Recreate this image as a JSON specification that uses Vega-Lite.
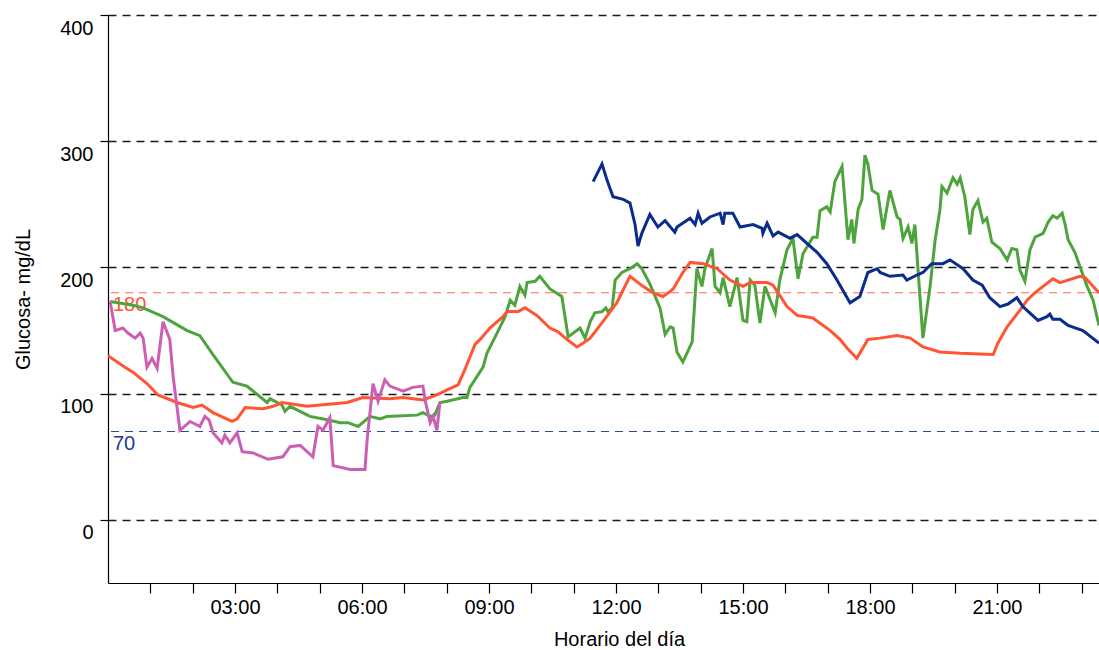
{
  "$schema": "https://vega.github.io/schema/vega-lite/v6.json",
  "width": 991,
  "height": 568,
  "autosize": "none",
  "padding": {"left": 108, "top": 15, "right": 0, "bottom": 67},
  "background": "white",
  "config": {"view": {"stroke": null}, "font": "Liberation Sans"},
  "layer": [
    {
      "data": {"values": [{"ref": 180}]},
      "mark": {"type": "rule", "strokeDash": [8, 6], "strokeWidth": 1.1, "color": "#ff6a50"},
      "encoding": {"y": {"field": "ref", "type": "quantitative", "scale": {"domain": [-50, 400], "nice": false}}}
    },
    {
      "data": {"values": [{"ref": 70}]},
      "mark": {"type": "rule", "strokeDash": [8, 6], "strokeWidth": 1.1, "color": "#2a4c9e"},
      "encoding": {"y": {"field": "ref", "type": "quantitative"}}
    },
    {
      "data": {"values": [{"ref": 180, "hora": 0, "label": "180"}]},
      "mark": {"type": "text", "align": "left", "baseline": "top", "dx": 5, "dy": 2, "fontSize": 20, "color": "#ff5533"},
      "encoding": {"x": {"field": "hora", "type": "quantitative"}, "y": {"field": "ref", "type": "quantitative"}, "text": {"field": "label"}}
    },
    {
      "data": {"values": [{"ref": 70, "hora": 0, "label": "70"}]},
      "mark": {"type": "text", "align": "left", "baseline": "top", "dx": 5, "dy": 2, "fontSize": 20, "color": "#1a3a99"},
      "encoding": {"x": {"field": "hora", "type": "quantitative"}, "y": {"field": "ref", "type": "quantitative"}, "text": {"field": "label"}}
    },
    {
      "data": {"values": [
        {"serie":"Día 2","hora":0.05,"glucosa":173},{"serie":"Día 2","hora":0.59,"glucosa":170},{"serie":"Día 2","hora":0.83,"glucosa":168},{"serie":"Día 2","hora":1.30,"glucosa":161},{"serie":"Día 2","hora":1.87,"glucosa":150},{"serie":"Día 2","hora":2.17,"glucosa":146},{"serie":"Día 2","hora":2.48,"glucosa":131},{"serie":"Día 2","hora":2.95,"glucosa":109},{"serie":"Día 2","hora":3.28,"glucosa":106},{"serie":"Día 2","hora":3.76,"glucosa":93},{"serie":"Día 2","hora":3.83,"glucosa":96},{"serie":"Día 2","hora":4.11,"glucosa":91},{"serie":"Día 2","hora":4.18,"glucosa":86},{"serie":"Día 2","hora":4.30,"glucosa":90},{"serie":"Día 2","hora":4.77,"glucosa":82},{"serie":"Día 2","hora":5.24,"glucosa":79},{"serie":"Día 2","hora":5.48,"glucosa":77},{"serie":"Día 2","hora":5.67,"glucosa":77},{"serie":"Día 2","hora":5.91,"glucosa":74},{"serie":"Día 2","hora":6.19,"glucosa":82},{"serie":"Día 2","hora":6.43,"glucosa":80},{"serie":"Día 2","hora":6.59,"glucosa":82},{"serie":"Día 2","hora":7.30,"glucosa":83},{"serie":"Día 2","hora":7.44,"glucosa":85},{"serie":"Día 2","hora":7.61,"glucosa":82},{"serie":"Día 2","hora":7.72,"glucosa":83},{"serie":"Día 2","hora":7.84,"glucosa":93},{"serie":"Día 2","hora":8.01,"glucosa":94},{"serie":"Día 2","hora":8.39,"glucosa":97},{"serie":"Día 2","hora":8.48,"glucosa":97},{"serie":"Día 2","hora":8.55,"glucosa":105},{"serie":"Día 2","hora":8.86,"glucosa":121},{"serie":"Día 2","hora":8.95,"glucosa":132},{"serie":"Día 2","hora":9.19,"glucosa":148},{"serie":"Día 2","hora":9.38,"glucosa":161},{"serie":"Día 2","hora":9.50,"glucosa":174},{"serie":"Día 2","hora":9.61,"glucosa":170},{"serie":"Día 2","hora":9.73,"glucosa":185},{"serie":"Día 2","hora":9.85,"glucosa":178},{"serie":"Día 2","hora":9.90,"glucosa":188},{"serie":"Día 2","hora":10.09,"glucosa":189},{"serie":"Día 2","hora":10.20,"glucosa":193},{"serie":"Día 2","hora":10.44,"glucosa":183},{"serie":"Día 2","hora":10.72,"glucosa":177},{"serie":"Día 2","hora":10.87,"glucosa":145},{"serie":"Día 2","hora":11.15,"glucosa":152},{"serie":"Día 2","hora":11.27,"glucosa":144},{"serie":"Día 2","hora":11.39,"glucosa":157},{"serie":"Día 2","hora":11.50,"glucosa":164},{"serie":"Día 2","hora":11.67,"glucosa":165},{"serie":"Día 2","hora":11.76,"glucosa":168},{"serie":"Día 2","hora":11.81,"glucosa":165},{"serie":"Día 2","hora":11.91,"glucosa":168},{"serie":"Día 2","hora":11.98,"glucosa":190},{"serie":"Día 2","hora":12.14,"glucosa":196},{"serie":"Día 2","hora":12.33,"glucosa":199},{"serie":"Día 2","hora":12.50,"glucosa":203},{"serie":"Día 2","hora":12.61,"glucosa":199},{"serie":"Día 2","hora":12.80,"glucosa":187},{"serie":"Día 2","hora":13.04,"glucosa":168},{"serie":"Día 2","hora":13.16,"glucosa":147},{"serie":"Día 2","hora":13.28,"glucosa":153},{"serie":"Día 2","hora":13.35,"glucosa":152},{"serie":"Día 2","hora":13.44,"glucosa":133},{"serie":"Día 2","hora":13.58,"glucosa":125},{"serie":"Día 2","hora":13.80,"glucosa":141},{"serie":"Día 2","hora":13.91,"glucosa":199},{"serie":"Día 2","hora":14.03,"glucosa":185},{"serie":"Día 2","hora":14.10,"glucosa":199},{"serie":"Día 2","hora":14.27,"glucosa":215},{"serie":"Día 2","hora":14.34,"glucosa":185},{"serie":"Día 2","hora":14.46,"glucosa":180},{"serie":"Día 2","hora":14.53,"glucosa":192},{"serie":"Día 2","hora":14.69,"glucosa":169},{"serie":"Día 2","hora":14.86,"glucosa":192},{"serie":"Día 2","hora":15.00,"glucosa":158},{"serie":"Día 2","hora":15.09,"glucosa":157},{"serie":"Día 2","hora":15.17,"glucosa":190},{"serie":"Día 2","hora":15.28,"glucosa":186},{"serie":"Día 2","hora":15.40,"glucosa":156},{"serie":"Día 2","hora":15.52,"glucosa":185},{"serie":"Día 2","hora":15.76,"glucosa":164},{"serie":"Día 2","hora":15.87,"glucosa":190},{"serie":"Día 2","hora":16.04,"glucosa":214},{"serie":"Día 2","hora":16.18,"glucosa":223},{"serie":"Día 2","hora":16.30,"glucosa":191},{"serie":"Día 2","hora":16.42,"glucosa":211},{"serie":"Día 2","hora":16.65,"glucosa":224},{"serie":"Día 2","hora":16.75,"glucosa":224},{"serie":"Día 2","hora":16.82,"glucosa":245},{"serie":"Día 2","hora":16.98,"glucosa":248},{"serie":"Día 2","hora":17.06,"glucosa":244},{"serie":"Día 2","hora":17.17,"glucosa":268},{"serie":"Día 2","hora":17.34,"glucosa":280},{"serie":"Día 2","hora":17.48,"glucosa":222},{"serie":"Día 2","hora":17.57,"glucosa":238},{"serie":"Día 2","hora":17.62,"glucosa":219},{"serie":"Día 2","hora":17.72,"glucosa":246},{"serie":"Día 2","hora":17.81,"glucosa":254},{"serie":"Día 2","hora":17.88,"glucosa":289},{"serie":"Día 2","hora":17.95,"glucosa":282},{"serie":"Día 2","hora":18.05,"glucosa":261},{"serie":"Día 2","hora":18.19,"glucosa":258},{"serie":"Día 2","hora":18.31,"glucosa":230},{"serie":"Día 2","hora":18.47,"glucosa":261},{"serie":"Día 2","hora":18.64,"glucosa":240},{"serie":"Día 2","hora":18.71,"glucosa":238},{"serie":"Día 2","hora":18.78,"glucosa":223},{"serie":"Día 2","hora":18.90,"glucosa":232},{"serie":"Día 2","hora":18.99,"glucosa":219},{"serie":"Día 2","hora":19.06,"glucosa":234},{"serie":"Día 2","hora":19.25,"glucosa":144},{"serie":"Día 2","hora":19.42,"glucosa":185},{"serie":"Día 2","hora":19.54,"glucosa":222},{"serie":"Día 2","hora":19.65,"glucosa":245},{"serie":"Día 2","hora":19.70,"glucosa":264},{"serie":"Día 2","hora":19.82,"glucosa":259},{"serie":"Día 2","hora":19.96,"glucosa":271},{"serie":"Día 2","hora":20.06,"glucosa":266},{"serie":"Día 2","hora":20.13,"glucosa":271},{"serie":"Día 2","hora":20.24,"glucosa":256},{"serie":"Día 2","hora":20.36,"glucosa":226},{"serie":"Día 2","hora":20.43,"glucosa":246},{"serie":"Día 2","hora":20.55,"glucosa":253},{"serie":"Día 2","hora":20.67,"glucosa":236},{"serie":"Día 2","hora":20.76,"glucosa":239},{"serie":"Día 2","hora":20.88,"glucosa":220},{"serie":"Día 2","hora":21.07,"glucosa":215},{"serie":"Día 2","hora":21.24,"glucosa":206},{"serie":"Día 2","hora":21.35,"glucosa":215},{"serie":"Día 2","hora":21.47,"glucosa":214},{"serie":"Día 2","hora":21.54,"glucosa":198},{"serie":"Día 2","hora":21.66,"glucosa":189},{"serie":"Día 2","hora":21.78,"glucosa":214},{"serie":"Día 2","hora":21.90,"glucosa":224},{"serie":"Día 2","hora":22.09,"glucosa":227},{"serie":"Día 2","hora":22.21,"glucosa":236},{"serie":"Día 2","hora":22.32,"glucosa":241},{"serie":"Día 2","hora":22.42,"glucosa":239},{"serie":"Día 2","hora":22.54,"glucosa":243},{"serie":"Día 2","hora":22.61,"glucosa":234},{"serie":"Día 2","hora":22.68,"glucosa":222},{"serie":"Día 2","hora":22.84,"glucosa":212},{"serie":"Día 2","hora":23.01,"glucosa":196},{"serie":"Día 2","hora":23.13,"glucosa":185},{"serie":"Día 2","hora":23.27,"glucosa":174},{"serie":"Día 2","hora":23.41,"glucosa":154},
        {"serie":"Día 1","hora":0,"glucosa":130},{"serie":"Día 1","hora":0.40,"glucosa":121},{"serie":"Día 1","hora":0.59,"glucosa":117},{"serie":"Día 1","hora":0.92,"glucosa":108},{"serie":"Día 1","hora":1.18,"glucosa":99},{"serie":"Día 1","hora":1.63,"glucosa":93},{"serie":"Día 1","hora":2.01,"glucosa":89},{"serie":"Día 1","hora":2.22,"glucosa":91},{"serie":"Día 1","hora":2.48,"glucosa":85},{"serie":"Día 1","hora":2.93,"glucosa":78},{"serie":"Día 1","hora":3.05,"glucosa":80},{"serie":"Día 1","hora":3.24,"glucosa":89},{"serie":"Día 1","hora":3.66,"glucosa":88},{"serie":"Día 1","hora":3.90,"glucosa":90},{"serie":"Día 1","hora":4.11,"glucosa":93},{"serie":"Día 1","hora":4.70,"glucosa":90},{"serie":"Día 1","hora":5.65,"glucosa":93},{"serie":"Día 1","hora":6.02,"glucosa":97},{"serie":"Día 1","hora":6.66,"glucosa":96},{"serie":"Día 1","hora":6.97,"glucosa":97},{"serie":"Día 1","hora":7.44,"glucosa":95},{"serie":"Día 1","hora":7.77,"glucosa":99},{"serie":"Día 1","hora":8.01,"glucosa":103},{"serie":"Día 1","hora":8.27,"glucosa":107},{"serie":"Día 1","hora":8.43,"glucosa":119},{"serie":"Día 1","hora":8.55,"glucosa":129},{"serie":"Día 1","hora":8.67,"glucosa":139},{"serie":"Día 1","hora":8.79,"glucosa":143},{"serie":"Día 1","hora":9.02,"glucosa":152},{"serie":"Día 1","hora":9.33,"glucosa":161},{"serie":"Día 1","hora":9.43,"glucosa":165},{"serie":"Día 1","hora":9.69,"glucosa":165},{"serie":"Día 1","hora":9.85,"glucosa":168},{"serie":"Día 1","hora":10.13,"glucosa":162},{"serie":"Día 1","hora":10.44,"glucosa":152},{"serie":"Día 1","hora":10.63,"glucosa":149},{"serie":"Día 1","hora":10.84,"glucosa":143},{"serie":"Día 1","hora":11.08,"glucosa":137},{"serie":"Día 1","hora":11.22,"glucosa":140},{"serie":"Día 1","hora":11.39,"glucosa":144},{"serie":"Día 1","hora":11.69,"glucosa":157},{"serie":"Día 1","hora":12.02,"glucosa":172},{"serie":"Día 1","hora":12.33,"glucosa":193},{"serie":"Día 1","hora":12.64,"glucosa":185},{"serie":"Día 1","hora":12.87,"glucosa":180},{"serie":"Día 1","hora":13.11,"glucosa":177},{"serie":"Día 1","hora":13.28,"glucosa":181},{"serie":"Día 1","hora":13.35,"glucosa":183},{"serie":"Día 1","hora":13.58,"glucosa":196},{"serie":"Día 1","hora":13.75,"glucosa":204},{"serie":"Día 1","hora":14.06,"glucosa":203},{"serie":"Día 1","hora":14.39,"glucosa":199},{"serie":"Día 1","hora":14.69,"glucosa":190},{"serie":"Día 1","hora":15.00,"glucosa":185},{"serie":"Día 1","hora":15.17,"glucosa":188},{"serie":"Día 1","hora":15.57,"glucosa":188},{"serie":"Día 1","hora":15.71,"glucosa":186},{"serie":"Día 1","hora":16.04,"glucosa":169},{"serie":"Día 1","hora":16.28,"glucosa":162},{"serie":"Día 1","hora":16.65,"glucosa":160},{"serie":"Día 1","hora":17.06,"glucosa":150},{"serie":"Día 1","hora":17.29,"glucosa":143},{"serie":"Día 1","hora":17.46,"glucosa":136},{"serie":"Día 1","hora":17.69,"glucosa":128},{"serie":"Día 1","hora":17.95,"glucosa":143},{"serie":"Día 1","hora":18.24,"glucosa":144},{"serie":"Día 1","hora":18.64,"glucosa":146},{"serie":"Día 1","hora":18.95,"glucosa":144},{"serie":"Día 1","hora":19.25,"glucosa":137},{"serie":"Día 1","hora":19.65,"glucosa":133},{"serie":"Día 1","hora":20.13,"glucosa":132},{"serie":"Día 1","hora":20.91,"glucosa":131},{"serie":"Día 1","hora":21.02,"glucosa":140},{"serie":"Día 1","hora":21.24,"glucosa":153},{"serie":"Día 1","hora":21.54,"glucosa":166},{"serie":"Día 1","hora":21.71,"glucosa":174},{"serie":"Día 1","hora":21.90,"glucosa":180},{"serie":"Día 1","hora":22.32,"glucosa":191},{"serie":"Día 1","hora":22.49,"glucosa":188},{"serie":"Día 1","hora":22.96,"glucosa":193},{"serie":"Día 1","hora":23.08,"glucosa":192},{"serie":"Día 1","hora":23.41,"glucosa":180},
        {"serie":"Día 4","hora":11.46,"glucosa":268},{"serie":"Día 4","hora":11.67,"glucosa":282},{"serie":"Día 4","hora":11.79,"glucosa":269},{"serie":"Día 4","hora":11.93,"glucosa":256},{"serie":"Día 4","hora":12.17,"glucosa":254},{"serie":"Día 4","hora":12.33,"glucosa":251},{"serie":"Día 4","hora":12.45,"glucosa":234},{"serie":"Día 4","hora":12.52,"glucosa":217},{"serie":"Día 4","hora":12.61,"glucosa":227},{"serie":"Día 4","hora":12.80,"glucosa":242},{"serie":"Día 4","hora":12.99,"glucosa":232},{"serie":"Día 4","hora":13.16,"glucosa":237},{"serie":"Día 4","hora":13.39,"glucosa":228},{"serie":"Día 4","hora":13.44,"glucosa":232},{"serie":"Día 4","hora":13.75,"glucosa":239},{"serie":"Día 4","hora":13.87,"glucosa":234},{"serie":"Día 4","hora":13.94,"glucosa":243},{"serie":"Día 4","hora":14.03,"glucosa":235},{"serie":"Día 4","hora":14.22,"glucosa":240},{"serie":"Día 4","hora":14.46,"glucosa":243},{"serie":"Día 4","hora":14.53,"glucosa":234},{"serie":"Día 4","hora":14.57,"glucosa":243},{"serie":"Día 4","hora":14.76,"glucosa":243},{"serie":"Día 4","hora":14.93,"glucosa":232},{"serie":"Día 4","hora":15.24,"glucosa":234},{"serie":"Día 4","hora":15.45,"glucosa":231},{"serie":"Día 4","hora":15.47,"glucosa":227},{"serie":"Día 4","hora":15.57,"glucosa":235},{"serie":"Día 4","hora":15.71,"glucosa":225},{"serie":"Día 4","hora":15.83,"glucosa":228},{"serie":"Día 4","hora":16.11,"glucosa":223},{"serie":"Día 4","hora":16.28,"glucosa":226},{"serie":"Día 4","hora":16.51,"glucosa":219},{"serie":"Día 4","hora":16.75,"glucosa":212},{"serie":"Día 4","hora":16.98,"glucosa":203},{"serie":"Día 4","hora":17.22,"glucosa":190},{"serie":"Día 4","hora":17.46,"glucosa":176},{"serie":"Día 4","hora":17.53,"glucosa":172},{"serie":"Día 4","hora":17.76,"glucosa":177},{"serie":"Día 4","hora":17.95,"glucosa":196},{"serie":"Día 4","hora":18.17,"glucosa":199},{"serie":"Día 4","hora":18.24,"glucosa":196},{"serie":"Día 4","hora":18.47,"glucosa":193},{"serie":"Día 4","hora":18.78,"glucosa":194},{"serie":"Día 4","hora":18.87,"glucosa":190},{"serie":"Día 4","hora":19.11,"glucosa":194},{"serie":"Día 4","hora":19.25,"glucosa":196},{"serie":"Día 4","hora":19.46,"glucosa":203},{"serie":"Día 4","hora":19.72,"glucosa":203},{"serie":"Día 4","hora":19.89,"glucosa":206},{"serie":"Día 4","hora":20.20,"glucosa":199},{"serie":"Día 4","hora":20.43,"glucosa":190},{"serie":"Día 4","hora":20.65,"glucosa":186},{"serie":"Día 4","hora":20.83,"glucosa":176},{"serie":"Día 4","hora":21.07,"glucosa":169},{"serie":"Día 4","hora":21.26,"glucosa":171},{"serie":"Día 4","hora":21.47,"glucosa":176},{"serie":"Día 4","hora":21.61,"glucosa":169},{"serie":"Día 4","hora":21.97,"glucosa":158},{"serie":"Día 4","hora":22.18,"glucosa":161},{"serie":"Día 4","hora":22.25,"glucosa":163},{"serie":"Día 4","hora":22.32,"glucosa":159},{"serie":"Día 4","hora":22.49,"glucosa":159},{"serie":"Día 4","hora":22.68,"glucosa":154},{"serie":"Día 4","hora":23.03,"glucosa":150},{"serie":"Día 4","hora":23.41,"glucosa":140},
        {"serie":"Día 3","hora":0.05,"glucosa":173},{"serie":"Día 3","hora":0.17,"glucosa":150},{"serie":"Día 3","hora":0.35,"glucosa":152},{"serie":"Día 3","hora":0.47,"glucosa":148},{"serie":"Día 3","hora":0.64,"glucosa":144},{"serie":"Día 3","hora":0.76,"glucosa":148},{"serie":"Día 3","hora":0.83,"glucosa":144},{"serie":"Día 3","hora":0.92,"glucosa":121},{"serie":"Día 3","hora":1.04,"glucosa":128},{"serie":"Día 3","hora":1.16,"glucosa":120},{"serie":"Día 3","hora":1.30,"glucosa":157},{"serie":"Día 3","hora":1.46,"glucosa":143},{"serie":"Día 3","hora":1.54,"glucosa":113},{"serie":"Día 3","hora":1.70,"glucosa":71},{"serie":"Día 3","hora":1.94,"glucosa":78},{"serie":"Día 3","hora":2.17,"glucosa":74},{"serie":"Día 3","hora":2.29,"glucosa":82},{"serie":"Día 3","hora":2.39,"glucosa":79},{"serie":"Día 3","hora":2.48,"glucosa":69},{"serie":"Día 3","hora":2.69,"glucosa":61},{"serie":"Día 3","hora":2.76,"glucosa":67},{"serie":"Día 3","hora":2.88,"glucosa":61},{"serie":"Día 3","hora":3.05,"glucosa":69},{"serie":"Día 3","hora":3.17,"glucosa":54},{"serie":"Día 3","hora":3.43,"glucosa":53},{"serie":"Día 3","hora":3.78,"glucosa":48},{"serie":"Día 3","hora":4.13,"glucosa":50},{"serie":"Día 3","hora":4.30,"glucosa":58},{"serie":"Día 3","hora":4.54,"glucosa":59},{"serie":"Día 3","hora":4.84,"glucosa":50},{"serie":"Día 3","hora":4.96,"glucosa":74},{"serie":"Día 3","hora":5.08,"glucosa":71},{"serie":"Día 3","hora":5.24,"glucosa":81},{"serie":"Día 3","hora":5.32,"glucosa":43},{"serie":"Día 3","hora":5.72,"glucosa":40},{"serie":"Día 3","hora":6.07,"glucosa":40},{"serie":"Día 3","hora":6.12,"glucosa":63},{"serie":"Día 3","hora":6.26,"glucosa":108},{"serie":"Día 3","hora":6.38,"glucosa":94},{"serie":"Día 3","hora":6.54,"glucosa":111},{"serie":"Día 3","hora":6.66,"glucosa":106},{"serie":"Día 3","hora":6.97,"glucosa":102},{"serie":"Día 3","hora":7.20,"glucosa":105},{"serie":"Día 3","hora":7.44,"glucosa":106},{"serie":"Día 3","hora":7.49,"glucosa":95},{"serie":"Día 3","hora":7.61,"glucosa":77},{"serie":"Día 3","hora":7.68,"glucosa":82},{"serie":"Día 3","hora":7.77,"glucosa":71},{"serie":"Día 3","hora":7.84,"glucosa":93}
      ]},
      "mark": {"type": "line", "strokeWidth": 3, "clip": true},
      "encoding": {
        "x": {
          "field": "hora", "type": "quantitative",
          "scale": {"domain": [0, 23.41], "nice": false, "zero": false},
          "axis": {
            "title": "Horario del día",
            "titleFontSize": 20, "titleFontWeight": "normal", "titleColor": "#000", "titleX": 511, "titlePadding": 12,
            "values": [1,2,3,4,5,6,7,8,9,10,11,12,13,14,15,16,17,18,19,20,21,22,23],
            "labelExpr": "datum.value % 3 === 0 ? (datum.value < 10 ? '0' : '') + datum.value + ':00' : ''",
            "labelFontSize": 20, "labelColor": "#000", "labelPadding": 4, "labelOverlap": false, "labelFlush": false,
            "tickSize": 10, "tickColor": "#000", "tickWidth": 1.2,
            "domainColor": "#000", "domainWidth": 1.2,
            "grid": false,
            "encode": {"ticks": {"update": {"y2": {"signal": "datum.value % 3 === 0 ? -10 : -5"}}}}
          }
        },
        "y": {
          "field": "glucosa", "type": "quantitative",
          "scale": {"domain": [-50, 400], "nice": false, "zero": false},
          "axis": {
            "title": "Glucosa- mg/dL",
            "titleFontSize": 20, "titleFontWeight": "normal", "titleColor": "#000", "titlePadding": 26,
            "values": [0, 100, 200, 300, 400],
            "labelFontSize": 20, "labelColor": "#000", "labelPadding": 7, "labelBaseline": "alphabetic", "labelOffset": 19, "labelFlush": false,
            "tickSize": 8, "tickColor": "#000", "tickWidth": 1.2,
            "domainColor": "#000", "domainWidth": 1.2,
            "grid": true, "gridColor": "#000", "gridDash": [8, 6], "gridWidth": 1.4, "gridOpacity": 0.9
          }
        },
        "color": {
          "field": "serie", "type": "nominal",
          "scale": {"domain": ["Día 1", "Día 2", "Día 3", "Día 4"], "range": ["#ff5533", "#4ea43c", "#cc5eb4", "#0a2d8c"]},
          "legend": null
        }
      }
    }
  ]
}
